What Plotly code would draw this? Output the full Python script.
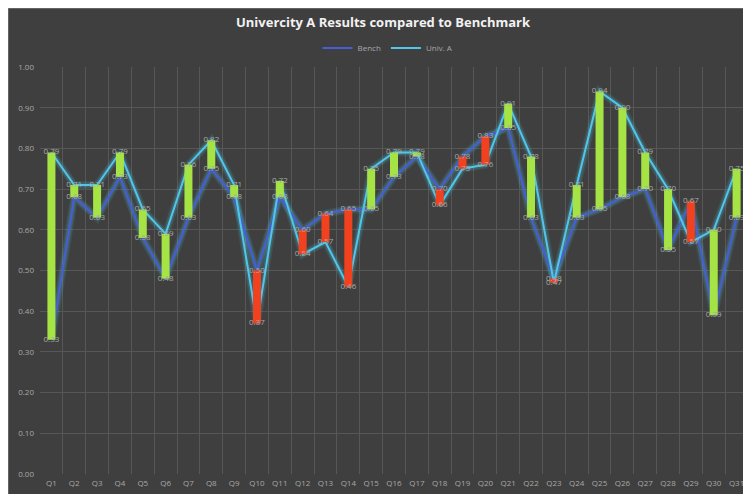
import plotly.graph_objects as go

categories = ["Q1", "Q2", "Q3", "Q4", "Q5", "Q6", "Q7", "Q8", "Q9", "Q10",
              "Q11", "Q12", "Q13", "Q14", "Q15", "Q16", "Q17", "Q18", "Q19", "Q20",
              "Q21", "Q22", "Q23", "Q24", "Q25", "Q26", "Q27", "Q28", "Q29", "Q30", "Q31"]
bench = [0.33, 0.68, 0.63, 0.73, 0.58, 0.48, 0.63, 0.75, 0.68, 0.50,
         0.68, 0.60, 0.64, 0.65, 0.65, 0.73, 0.78, 0.70, 0.78, 0.83,
         0.85, 0.63, 0.48, 0.63, 0.65, 0.68, 0.70, 0.55, 0.67, 0.39, 0.63]
univ = [0.79, 0.71, 0.71, 0.79, 0.65, 0.59, 0.76, 0.82, 0.71, 0.37,
        0.72, 0.54, 0.57, 0.46, 0.75, 0.79, 0.79, 0.66, 0.75, 0.76,
        0.91, 0.78, 0.47, 0.71, 0.94, 0.90, 0.79, 0.70, 0.57, 0.60, 0.75]
y_ticks = [0.0, 0.1, 0.2, 0.3, 0.4, 0.5, 0.6, 0.7, 0.8, 0.9, 1.0]

BG = "#3f3f3f"
GRID = "#575757"
LABEL = "#a8a8a8"
BLUE = "#4a5cd6"
CYAN = "#52c6ea"
GREEN = "#a6e445"
RED = "#f2411f"

# page body margin offsets the figure by 8px; figure fills the rest of the window
OFF = 8
W, H = 751 - OFF, 494 - OFF
ML, MR, MT, MB = 40 - OFF, 3, 67 - OFF, 20
PW, PH = W - ML - MR, H - MT - MB

fig = go.Figure()

# glow
for vals in (bench, univ):
    fig.add_trace(go.Scatter(x=categories, y=vals, mode="lines",
                             line=dict(color="rgba(70,200,220,0.12)", width=8),
                             hoverinfo="skip", showlegend=False))
    fig.add_trace(go.Scatter(x=categories, y=vals, mode="lines",
                             line=dict(color="rgba(70,200,220,0.18)", width=5),
                             hoverinfo="skip", showlegend=False))

fig.add_trace(go.Scatter(x=categories, y=bench, mode="lines", name="Bench",
                         line=dict(color=BLUE, width=2)))
fig.add_trace(go.Scatter(x=categories, y=univ, mode="lines", name="Univ. A",
                         line=dict(color=CYAN, width=2)))

# up/down bars
for up, color in ((True, GREEN), (False, RED)):
    xs, ys = [], []
    for c, b, u in zip(categories, bench, univ):
        if (u >= b) == up:
            xs += [c, c, None]
            ys += [b, u, None]
    fig.add_trace(go.Scatter(x=xs, y=ys, mode="lines",
                             line=dict(color=color, width=8),
                             hoverinfo="skip", showlegend=False))

# data labels
for vals in (bench, univ):
    fig.add_trace(go.Scatter(x=categories, y=vals, mode="text",
                             text=[f"{v:.2f}" for v in vals],
                             textposition="middle center",
                             textfont=dict(size=8, color=LABEL, family="Open Sans"),
                             hoverinfo="skip", showlegend=False))

def px_x(p):  # p in window pixels
    return (p - OFF - ML) / PW

def px_y(p):
    return 1 + (MT - (p - OFF)) / PH

shapes = [
    dict(type="line", xref="paper", yref="paper", x0=px_x(OFF), x1=px_x(OFF),
         y0=px_y(494), y1=px_y(OFF), line=dict(color="#8a8a8a", width=1), layer="below"),
    dict(type="line", xref="paper", yref="paper", x0=px_x(OFF), x1=px_x(751),
         y0=px_y(OFF), y1=px_y(OFF), line=dict(color="#8a8a8a", width=1), layer="below"),
]

fig.update_layout(
    width=W, height=H,
    margin=dict(l=ML, r=MR, t=MT, b=MB, autoexpand=False),
    paper_bgcolor=BG, plot_bgcolor=BG,
    title=dict(text="<b>Univercity A Results compared to Benchmark</b>",
               x=(383 - OFF) / W, xanchor="center", y=1 - (22 - OFF) / H, yanchor="middle",
               font=dict(size=13, color="#f2f2f2", family="Open Sans")),
    legend=dict(orientation="h", x=px_x(388), xanchor="center",
                y=px_y(48), yanchor="middle",
                font=dict(size=8, color=LABEL, family="Open Sans"),
                bgcolor="rgba(0,0,0,0)", itemwidth=30),
    shapes=shapes,
    showlegend=True,
)
fig.update_xaxes(type="category", range=[-0.5, len(categories) - 0.5],
                 tickson="boundaries", showgrid=True,
                 gridcolor=GRID, gridwidth=1, ticks="", showline=False,
                 zeroline=False, tickangle=0, automargin=False,
                 ticklabelstandoff=3,
                 tickfont=dict(size=8, color=LABEL, family="Open Sans"))
fig.update_yaxes(range=[0, 1], tickvals=y_ticks, tickformat=".2f",
                 showgrid=True, gridcolor=GRID, gridwidth=1, ticks="",
                 zeroline=False, showline=False, automargin=False,
                 ticklabelstandoff=5,
                 tickfont=dict(size=8, color=LABEL, family="Open Sans"))

fig.write_html("out.html")
